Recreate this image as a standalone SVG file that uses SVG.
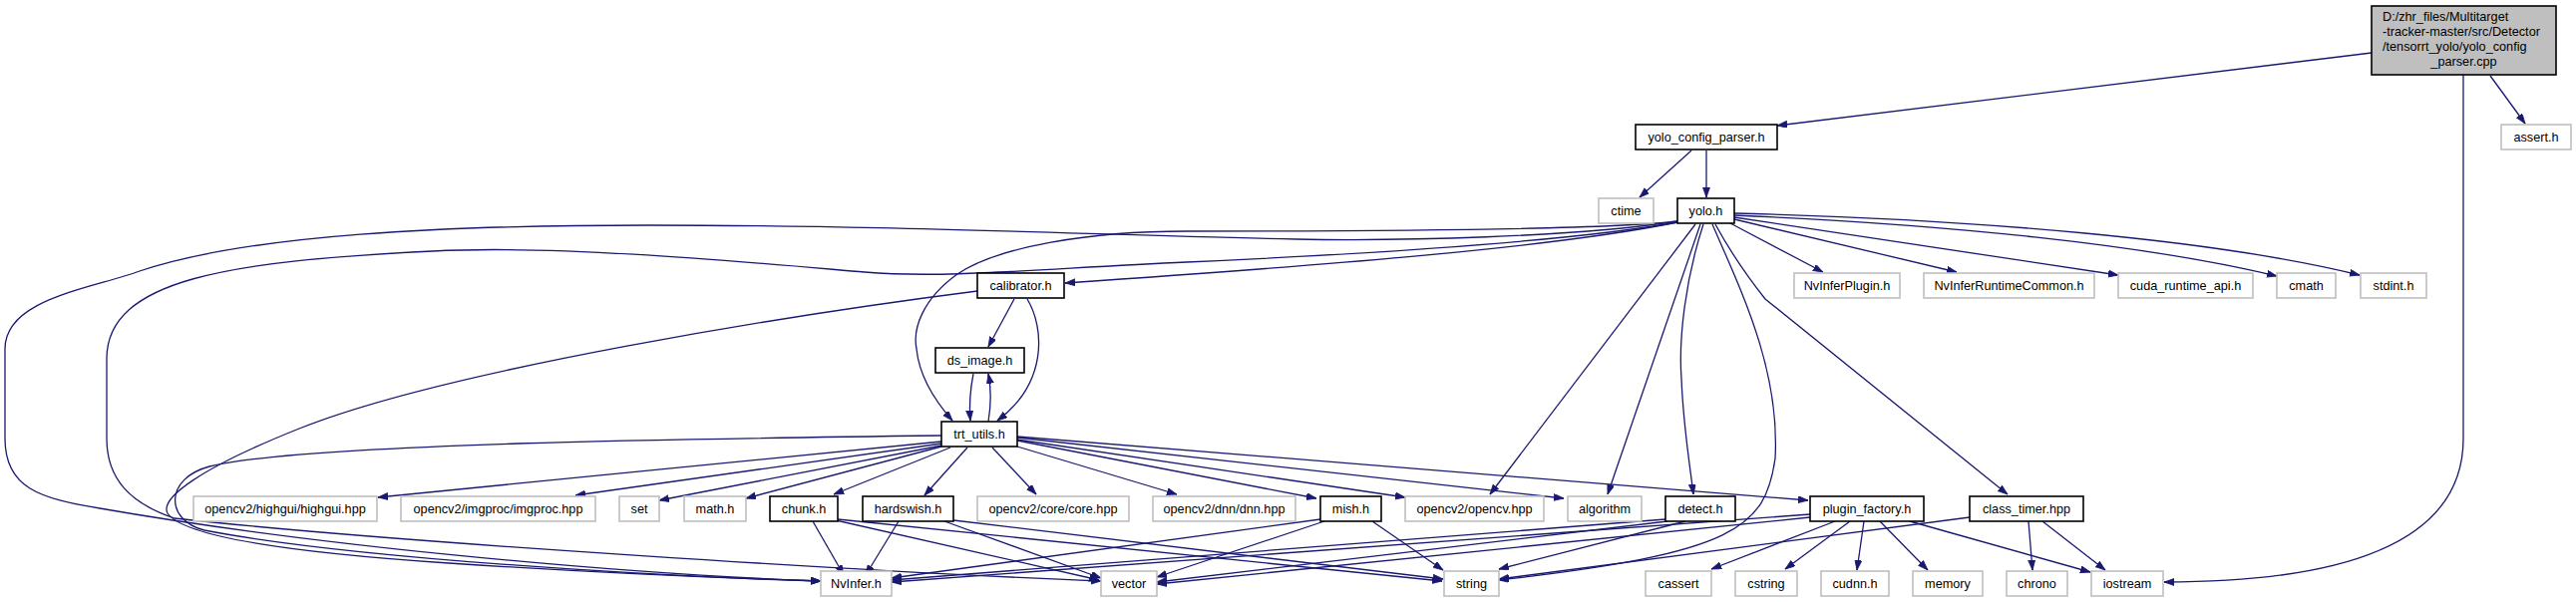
<svg xmlns="http://www.w3.org/2000/svg" width="2583" height="604" viewBox="0 0 2583 604">
<style>
text{font-family:"Liberation Sans",Arial,sans-serif;font-size:12.7px;fill:#000;text-anchor:middle}
.d rect{fill:#fff;stroke:#000;stroke-width:1.6}
.x rect{fill:#fff;stroke:#bfbfbf;stroke-width:1.6}
.m rect{fill:#bfbfbf;stroke:#000;stroke-width:1.6}
.m text{text-anchor:start}
#edges path{fill:none;stroke:#191970;stroke-width:1.3;marker-end:url(#a)}
</style>
<defs>
<marker id="a" markerUnits="userSpaceOnUse" markerWidth="11" markerHeight="8" refX="10" refY="3.5" orient="auto">
<path d="M0,0 L10,3.5 L0,7 z" fill="#191970" stroke="#191970" stroke-width="0.8"/>
</marker>
</defs>
<rect width="2583" height="604" fill="#fff"/>
<g id="edges">
<path d="M2378,53 L1782,126"/>
<path d="M2497,76 L2532,124"/>
<path d="M2470,75 L2470,440 C2470,540 2360,584 2170,584"/>
<path d="M1696,151 L1644,198"/>
<path d="M1711,151 L1711,198"/>
<path d="M1735,224 L1828,273"/>
<path d="M1739,220 L1962,273"/>
<path d="M1739,218 L2124,276"/>
<path d="M1739,216 C1950,225 2150,245 2283,277"/>
<path d="M1739,214 C1980,220 2220,240 2366,276"/>
<path d="M1682,223 C1550,250 1300,268 1068,284"/>
<path d="M1682,222 C1600,232 1300,232 1190,232 C1090,232 1000,248 960,275 C925,300 915,330 919,350 C922,380 940,405 955,422"/>
<path d="M1682,222 C1580,238 1400,242 1300,240 C1100,236 900,226 650,226 C450,226 250,235 140,272 C90,290 5,300 5,350 L5,440 C5,490 40,500 100,510 C300,545 600,575 823,583"/>
<path d="M1682,223 C1560,245 1300,258 1190,263 C1050,269 950,280 867,273 C760,264 560,245 434,252 C230,262 107,280 107,360 L107,440 C107,480 130,505 175,520 C400,545 900,575 1104,583"/>
<path d="M1700,225 L1494,496"/>
<path d="M1705,225 L1612,496"/>
<path d="M1708,225 C1690,280 1683,340 1686,380 C1688,430 1695,470 1698,496"/>
<path d="M1717,225 C1745,290 1785,370 1780,460 C1770,530 1740,555 1503,582"/>
<path d="M1720,225 Q1740,262 1770,300 L2013,496"/>
<path d="M1017,300 L991,348"/>
<path d="M1030,300 C1048,330 1050,385 1000,422"/>
<path d="M980,292 C800,315 450,370 300,430 C200,470 160,500 168,515 C185,540 300,555 450,565 C600,575 720,580 823,583"/>
<path d="M976,375 C972,395 972,410 973,422"/>
<path d="M991,423 C994,405 994,390 991,375"/>
<path d="M944,437 C700,440 300,445 210,468 C165,480 165,522 205,532 C350,560 650,578 823,583"/>
<path d="M944,443 L379,499"/>
<path d="M944,445 L577,497"/>
<path d="M944,447 L661,502"/>
<path d="M944,448 L748,500"/>
<path d="M953,449 L836,496"/>
<path d="M970,449 L927,497"/>
<path d="M995,449 L1039,496"/>
<path d="M1020,448 L1180,496"/>
<path d="M1020,442 L1320,500"/>
<path d="M1020,441 L1409,499"/>
<path d="M1020,439 L1568,500"/>
<path d="M1020,438 L1813,502"/>
<path d="M815,523 L846,577"/>
<path d="M838,522 L1102,582"/>
<path d="M840,521 L1446,583"/>
<path d="M901,523 L868,577"/>
<path d="M947,523 L1104,580"/>
<path d="M956,522 L1447,581"/>
<path d="M1324,521 L894,580"/>
<path d="M1328,523 L1160,579"/>
<path d="M1376,523 L1447,572"/>
<path d="M1670,521 L894,582"/>
<path d="M1672,523 L1160,584"/>
<path d="M1690,523 L1503,571"/>
<path d="M1815,516 L894,584"/>
<path d="M1815,519 L1160,586"/>
<path d="M1840,523 L1716,571"/>
<path d="M1855,523 L1790,571"/>
<path d="M1869,523 L1862,572"/>
<path d="M1885,523 L1933,572"/>
<path d="M1915,523 L2096,574"/>
<path d="M1975,519 L1503,581"/>
<path d="M2034,523 L2038,572"/>
<path d="M2048,523 L2111,572"/>
</g>
<g id="main" class="m"><rect x="2378" y="6" width="185" height="69"/>
<text x="2389" y="21">D:/zhr_files/Multitarget</text>
<text x="2389" y="36">-tracker-master/src/Detector</text>
<text x="2389" y="51">/tensorrt_yolo/yolo_config</text>
<text x="2470.5" y="65.5" style="text-anchor:middle">_parser.cpp</text></g>
<g id="yolo_config_parser" class="d"><rect x="1640" y="125" width="142" height="25"/><text x="1711" y="142">yolo_config_parser.h</text></g>
<g id="assert" class="x"><rect x="2508" y="125" width="70" height="25"/><text x="2543" y="142">assert.h</text></g>
<g id="ctime" class="x"><rect x="1603" y="199" width="55" height="25"/><text x="1630.5" y="216">ctime</text></g>
<g id="yolo" class="d"><rect x="1682" y="199" width="57" height="25"/><text x="1710.5" y="216">yolo.h</text></g>
<g id="calibrator" class="d"><rect x="980" y="274" width="87" height="25"/><text x="1023.5" y="291">calibrator.h</text></g>
<g id="NvInferPlugin" class="x"><rect x="1799" y="274" width="106" height="25"/><text x="1852" y="291">NvInferPlugin.h</text></g>
<g id="NvInferRuntimeCommon" class="x"><rect x="1929" y="274" width="171" height="25"/><text x="2014.5" y="291">NvInferRuntimeCommon.h</text></g>
<g id="cuda_runtime_api" class="x"><rect x="2124" y="274" width="135" height="25"/><text x="2191.5" y="291">cuda_runtime_api.h</text></g>
<g id="cmath" class="x"><rect x="2283" y="274" width="59" height="25"/><text x="2312.5" y="291">cmath</text></g>
<g id="stdint" class="x"><rect x="2367" y="274" width="66" height="25"/><text x="2400" y="291">stdint.h</text></g>
<g id="ds_image" class="d"><rect x="938" y="349" width="89" height="25"/><text x="982.5" y="366">ds_image.h</text></g>
<g id="trt_utils" class="d"><rect x="944" y="423" width="76" height="25"/><text x="982" y="440">trt_utils.h</text></g>
<g id="highgui" class="x"><rect x="194" y="498" width="184" height="25"/><text x="286" y="515">opencv2/highgui/highgui.hpp</text></g>
<g id="imgproc" class="x"><rect x="402" y="498" width="195" height="25"/><text x="499.5" y="515">opencv2/imgproc/imgproc.hpp</text></g>
<g id="set" class="x"><rect x="621" y="498" width="40" height="25"/><text x="641" y="515">set</text></g>
<g id="math" class="x"><rect x="686" y="498" width="62" height="25"/><text x="717" y="515">math.h</text></g>
<g id="chunk" class="d"><rect x="772" y="498" width="68" height="25"/><text x="806" y="515">chunk.h</text></g>
<g id="hardswish" class="d"><rect x="865" y="498" width="91" height="25"/><text x="910.5" y="515">hardswish.h</text></g>
<g id="core" class="x"><rect x="980" y="498" width="152" height="25"/><text x="1056" y="515">opencv2/core/core.hpp</text></g>
<g id="dnn" class="x"><rect x="1156" y="498" width="143" height="25"/><text x="1227.5" y="515">opencv2/dnn/dnn.hpp</text></g>
<g id="mish" class="d"><rect x="1324" y="498" width="61" height="25"/><text x="1354.5" y="515">mish.h</text></g>
<g id="opencv" class="x"><rect x="1409" y="498" width="139" height="25"/><text x="1478.5" y="515">opencv2/opencv.hpp</text></g>
<g id="algorithm" class="x"><rect x="1572" y="498" width="74" height="25"/><text x="1609" y="515">algorithm</text></g>
<g id="detect" class="d"><rect x="1670" y="498" width="70" height="25"/><text x="1705" y="515">detect.h</text></g>
<g id="plugin_factory" class="d"><rect x="1815" y="498" width="114" height="25"/><text x="1872" y="515">plugin_factory.h</text></g>
<g id="class_timer" class="d"><rect x="1975" y="498" width="114" height="25"/><text x="2032" y="515">class_timer.hpp</text></g>
<g id="NvInfer" class="x"><rect x="823" y="573" width="71" height="25"/><text x="858.5" y="590">NvInfer.h</text></g>
<g id="vector" class="x"><rect x="1104" y="573" width="56" height="25"/><text x="1132" y="590">vector</text></g>
<g id="string" class="x"><rect x="1448" y="573" width="55" height="25"/><text x="1475.5" y="590">string</text></g>
<g id="cassert" class="x"><rect x="1650" y="573" width="66" height="25"/><text x="1683" y="590">cassert</text></g>
<g id="cstring" class="x"><rect x="1740" y="573" width="62" height="25"/><text x="1771" y="590">cstring</text></g>
<g id="cudnn" class="x"><rect x="1826" y="573" width="68" height="25"/><text x="1860" y="590">cudnn.h</text></g>
<g id="memory" class="x"><rect x="1918" y="573" width="70" height="25"/><text x="1953" y="590">memory</text></g>
<g id="chrono" class="x"><rect x="2012" y="573" width="61" height="25"/><text x="2042.5" y="590">chrono</text></g>
<g id="iostream" class="x"><rect x="2097" y="573" width="72" height="25"/><text x="2133" y="590">iostream</text></g>
</svg>
